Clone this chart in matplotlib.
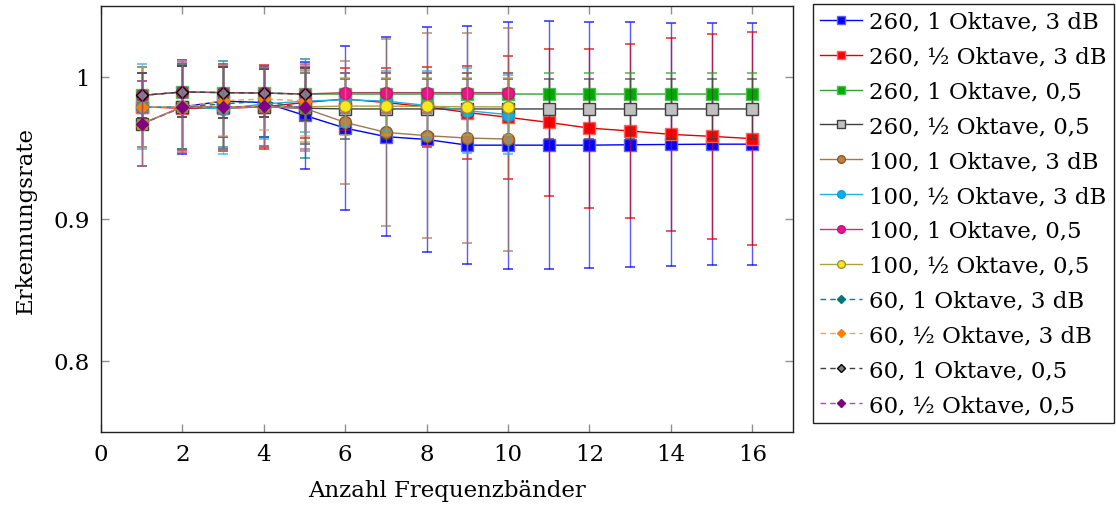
import matplotlib
matplotlib.use("Agg")
import matplotlib.pyplot as plt

plt.rcParams['font.family'] = ['DejaVu Serif']
plt.rcParams['mathtext.fontset'] = 'dejavuserif'

# Number of frequency bands per configuration
bands_260 = list(range(1, 17))
bands_100 = list(range(1, 11))
bands_60 = list(range(1, 6))

# Recognition rates (mean) and standard deviations
r260_1_3db = [0.979, 0.979, 0.983, 0.982, 0.973, 0.964, 0.958, 0.956, 0.952, 0.952,
              0.952, 0.952, 0.9523, 0.9525, 0.9527, 0.9527]
e260_1_3db = [0.028, 0.033, 0.025, 0.024, 0.0375, 0.058, 0.070, 0.079, 0.084, 0.087,
              0.0875, 0.0868, 0.0863, 0.0857, 0.0852, 0.085]

r260_h_3db = [0.979, 0.978, 0.978, 0.979, 0.982, 0.9845, 0.982, 0.979, 0.975, 0.9716,
              0.968, 0.964, 0.962, 0.9596, 0.9582, 0.9566]
e260_h_3db = [0.028, 0.030, 0.030, 0.0295, 0.025, 0.022, 0.024, 0.028, 0.033, 0.0435,
              0.052, 0.056, 0.061, 0.068, 0.072, 0.075]

r260_1_05 = [0.987, 0.9895, 0.989, 0.9887, 0.988, 0.988, 0.988, 0.988, 0.988, 0.988,
             0.988, 0.988, 0.988, 0.988, 0.988, 0.988]
e260_1_05 = [0.016, 0.018, 0.018, 0.017, 0.018, 0.015, 0.015, 0.015, 0.015, 0.015,
             0.015, 0.015, 0.015, 0.015, 0.015, 0.015]

r260_h_05 = [0.967, 0.979, 0.979, 0.979, 0.978, 0.9775, 0.9775, 0.9775, 0.9775, 0.9775,
             0.9775, 0.9775, 0.9775, 0.9775, 0.9775, 0.9775]
e260_h_05 = [0.030, 0.030, 0.030, 0.028, 0.025, 0.021, 0.021, 0.021, 0.021, 0.021,
             0.021, 0.021, 0.021, 0.021, 0.021, 0.021]

r100_1_3db = [0.979, 0.979, 0.978, 0.979, 0.978, 0.968, 0.961, 0.9587, 0.957, 0.9563]
e100_1_3db = [0.028, 0.030, 0.030, 0.028, 0.030, 0.043, 0.066, 0.072, 0.074, 0.0785]

r100_h_3db = [0.979, 0.979, 0.9775, 0.981, 0.983, 0.984, 0.983, 0.980, 0.9763, 0.9735]
e100_h_3db = [0.030, 0.030, 0.032, 0.025, 0.022, 0.019, 0.021, 0.024, 0.030, 0.028]

r100_1_05 = [0.987, 0.9895, 0.989, 0.9887, 0.988, 0.989, 0.989, 0.989, 0.989, 0.989]
e100_1_05 = [0.016, 0.018, 0.018, 0.017, 0.018, 0.014, 0.014, 0.014, 0.014, 0.014]

r100_h_05 = [0.967, 0.979, 0.979, 0.9793, 0.979, 0.9795, 0.9795, 0.9793, 0.979, 0.979]
e100_h_05 = [0.030, 0.030, 0.030, 0.028, 0.025, 0.020, 0.020, 0.020, 0.020, 0.020]

r60_1_3db = [0.979, 0.979, 0.981, 0.983, 0.978]
e60_1_3db = [0.028, 0.030, 0.030, 0.025, 0.035]

r60_h_3db = [0.979, 0.979, 0.9833, 0.9845, 0.9833]
e60_h_3db = [0.028, 0.032, 0.025, 0.022, 0.025]

r60_1_05 = [0.987, 0.9895, 0.989, 0.9887, 0.988]
e60_1_05 = [0.016, 0.018, 0.018, 0.017, 0.018]

r60_h_05 = [0.967, 0.9786, 0.979, 0.9793, 0.979]
e60_h_05 = [0.030, 0.032, 0.030, 0.028, 0.030]

labels = [
    "260, 1 Oktave, 3 dB", "260, ½ Oktave, 3 dB", "260, 1 Oktave, 0,5", "260, ½ Oktave, 0,5",
    "100, 1 Oktave, 3 dB", "100, ½ Oktave, 3 dB", "100, 1 Oktave, 0,5", "100, ½ Oktave, 0,5",
    "60, 1 Oktave, 3 dB", "60, ½ Oktave, 3 dB", "60, 1 Oktave, 0,5", "60, ½ Oktave, 0,5",
]

series = [
    (bands_260, r260_1_3db, e260_1_3db),
    (bands_260, r260_h_3db, e260_h_3db),
    (bands_260, r260_1_05, e260_1_05),
    (bands_260, r260_h_05, e260_h_05),
    (bands_100, r100_1_3db, e100_1_3db),
    (bands_100, r100_h_3db, e100_h_3db),
    (bands_100, r100_1_05, e100_1_05),
    (bands_100, r100_h_05, e100_h_05),
    (bands_60, r60_1_3db, e60_1_3db),
    (bands_60, r60_h_3db, e60_h_3db),
    (bands_60, r60_1_05, e60_1_05),
    (bands_60, r60_h_05, e60_h_05),
]

# line colour, marker, face colour, edge colour, marker size, line style
styles = [
    ("#0000ff", "s", "#0000ff", "#6060ff", 8.5, "-"),
    ("#e00000", "s", "#ff0000", "#ff6060", 8.5, "-"),
    ("#30a030", "s", "#00aa00", "#50c050", 8.5, "-"),
    ("#404040", "s", "#c0c0c0", "#404040", 8.0, "-"),
    ("#a07850", "o", "#bf8040", "#8a5a2a", 8.5, "-"),
    ("#20b0e0", "o", "#10aee8", "#10a0d8", 8.5, "-"),
    ("#b04070", "o", "#ec118c", "#d01080", 8.5, "-"),
    ("#b0a040", "o", "#f8e81a", "#a09030", 8.5, "-"),
    ("#008080", "D", "#007878", "#007878", 5.8, (0, (4, 3))),
    ("#f0a060", "D", "#ff8000", "#ff8000", 5.8, (0, (4, 3))),
    ("#404040", "D", "#808080", "#000000", 5.8, (0, (4, 3))),
    ("#a050a0", "D", "#800080", "#800080", 5.8, (0, (4, 3))),
]

FS = 16.5

fig = plt.figure(figsize=(11.16, 5.10), dpi=100)
ax = fig.add_axes([101 / 1116, 77 / 510, 692 / 1116, 426 / 510])

handles = []
for i, ((x, y, e), (lc, mk, fc, ec, ms, ls)) in enumerate(zip(series, styles)):
    z = 3 + i
    ax.errorbar(x, y, yerr=e, fmt="none", ecolor=lc, elinewidth=1.0,
                capsize=3.6, capthick=1.4, alpha=0.65, zorder=z)
    h, = ax.plot(x, y, color=lc, linestyle=ls, linewidth=1.0, marker=mk,
                 markersize=ms, markerfacecolor=fc, markeredgecolor=ec,
                 markeredgewidth=1.0, zorder=z + 0.5, label=labels[i])
    handles.append(h)

ax.set_xlim(0, 17)
ax.set_ylim(0.75, 1.05)
ax.set_xticks([0, 2, 4, 6, 8, 10, 12, 14, 16])
ax.set_yticks([0.8, 0.9, 1.0])
ax.set_yticklabels(["0.8", "0.9", "1"])
ax.tick_params(direction="in", length=6, width=1, color="#909090",
               top=True, right=True, labelsize=FS, pad=8)
for sp in ax.spines.values():
    sp.set_color("#222222")
    sp.set_linewidth(1.0)

ax.set_xlabel("Anzahl Frequenzbänder", fontsize=FS, labelpad=10)
ax.set_ylabel("Erkennungsrate", fontsize=FS, labelpad=12)

leg = fig.legend(handles=handles, loc="upper left",
                 bbox_to_anchor=(813 / 1116, 1 - 5 / 510),
                 fontsize=FS, frameon=True, fancybox=False, edgecolor="#222222",
                 framealpha=1, borderpad=0.3, labelspacing=0.56,
                 handlelength=1.85, handletextpad=0.3, markerscale=0.65,
                 borderaxespad=0)
leg.get_frame().set_linewidth(1.0)

fig.savefig("out.png", dpi=100)
